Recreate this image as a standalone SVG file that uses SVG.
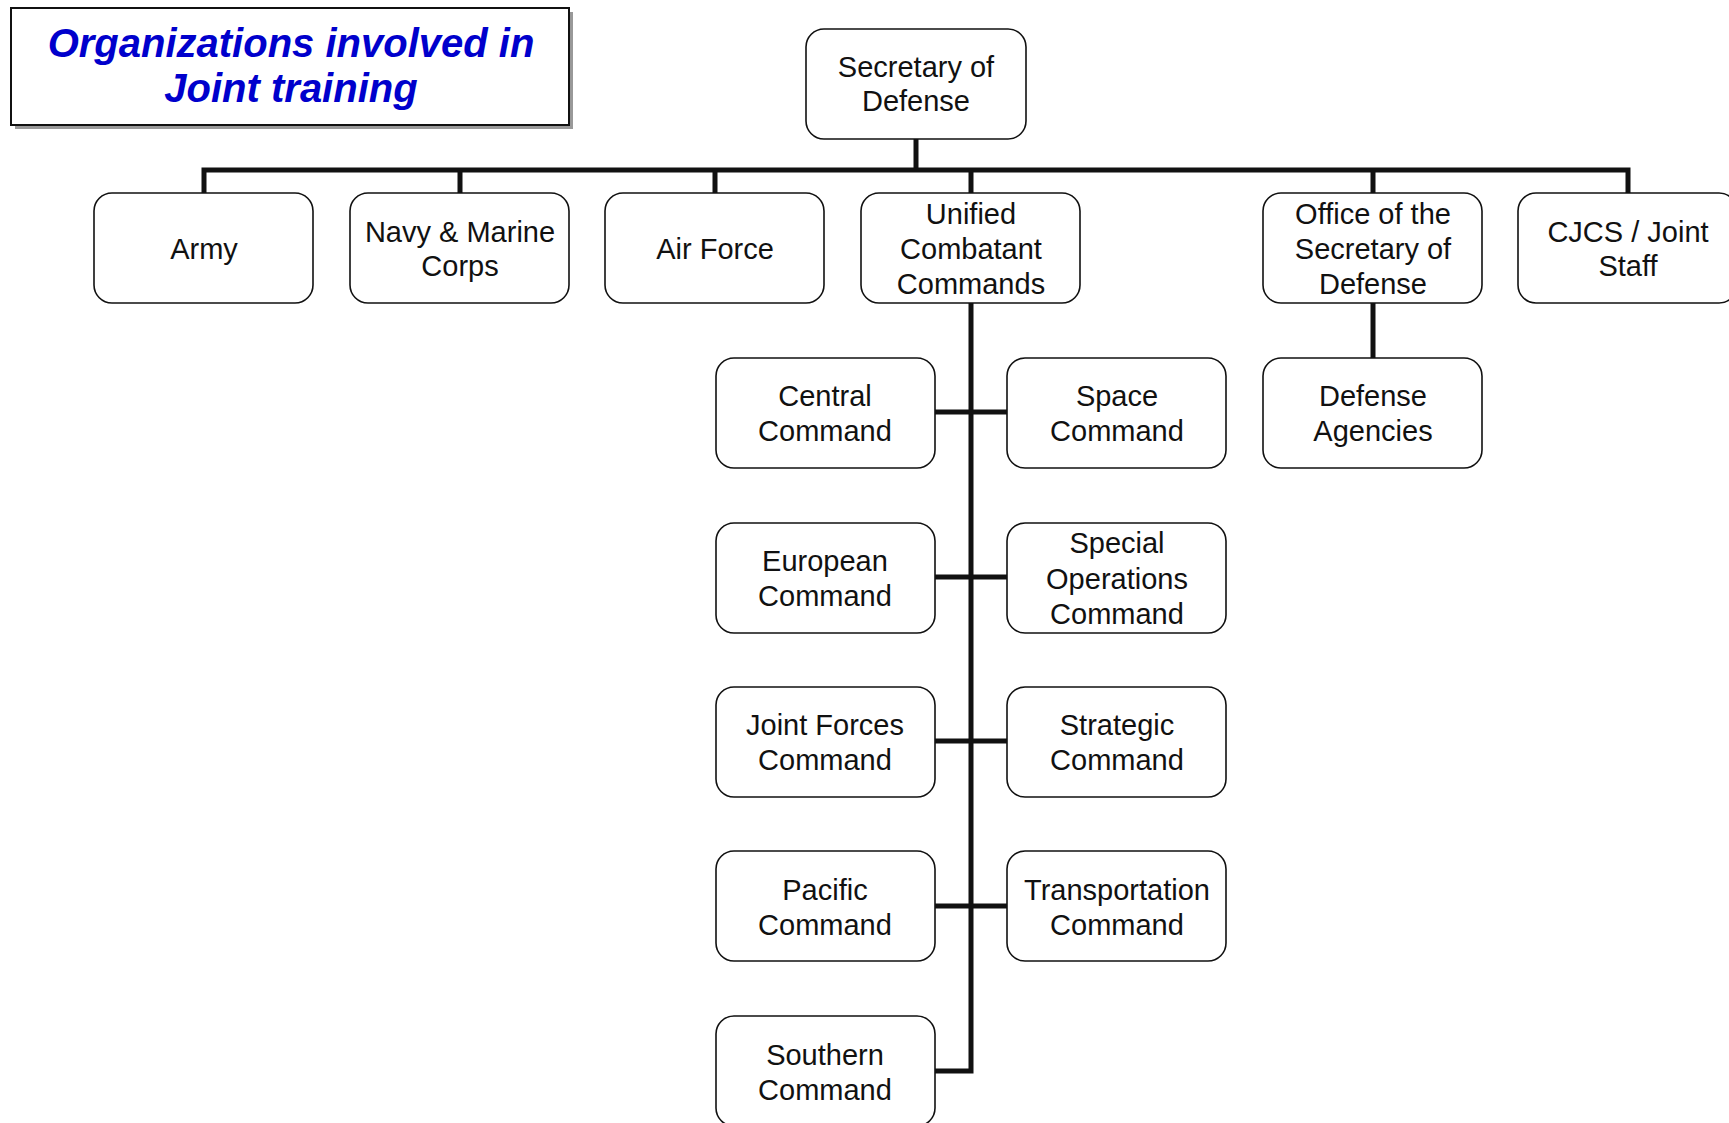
<svg xmlns="http://www.w3.org/2000/svg" width="1729" height="1123" viewBox="0 0 1729 1123">
<style>
.box{fill:#fff;stroke:#111;stroke-width:1.6}
.t{font-family:"Liberation Sans",Arial,sans-serif;font-size:29px;fill:#111;text-anchor:middle}
.c{fill:none;stroke:#111;stroke-width:5;stroke-linejoin:miter}
.title{font-family:"Liberation Sans",Arial,sans-serif;font-size:40px;font-weight:bold;font-style:italic;fill:#0000CC;text-anchor:middle}
</style>
<rect width="1729" height="1123" fill="#fff"/>
<g id="title">
<rect x="15" y="12" width="558" height="117" fill="#999"/>
<rect x="11" y="8" width="558" height="117" fill="#fff" stroke="#111" stroke-width="2"/>
<text class="title" x="291" y="57">Organizations involved in</text>
<text class="title" x="291" y="102">Joint training</text>
</g>
<g id="connectors">
<path class="c" d="M916 139V170"/>
<path class="c" d="M204 193V170H1628V193"/>
<path class="c" d="M460 170V193M715 170V193M1373 170V193"/>
<path class="c" d="M971 170V193"/>
<path class="c" d="M971 303V1071H935"/>
<path class="c" d="M935 412H1007M935 577H1007M935 741H1007M935 906H1007"/>
<path class="c" d="M1373 303V358"/>
</g>
<g id="secdef"><rect class="box" x="806" y="29" width="220" height="110" rx="18"/><text class="t" x="916" y="77">Secretary of</text><text class="t" x="916" y="111">Defense</text></g>
<g id="army"><rect class="box" x="94" y="193" width="219" height="110" rx="18"/><text class="t" x="204" y="259">Army</text></g>
<g id="navy"><rect class="box" x="350" y="193" width="219" height="110" rx="18"/><text class="t" x="460" y="242">Navy &amp; Marine</text><text class="t" x="460" y="276">Corps</text></g>
<g id="airforce"><rect class="box" x="605" y="193" width="219" height="110" rx="18"/><text class="t" x="715" y="259">Air Force</text></g>
<g id="unified"><rect class="box" x="861" y="193" width="219" height="110" rx="18"/><text class="t" x="971" y="224">Unified</text><text class="t" x="971" y="259">Combatant</text><text class="t" x="971" y="294">Commands</text></g>
<g id="osd"><rect class="box" x="1263" y="193" width="219" height="110" rx="18"/><text class="t" x="1373" y="224">Office of the</text><text class="t" x="1373" y="259">Secretary of</text><text class="t" x="1373" y="294">Defense</text></g>
<g id="cjcs"><rect class="box" x="1518" y="193" width="219" height="110" rx="18"/><text class="t" x="1628" y="242">CJCS / Joint</text><text class="t" x="1628" y="276">Staff</text></g>
<g id="agencies"><rect class="box" x="1263" y="358" width="219" height="110" rx="18"/><text class="t" x="1373" y="406">Defense</text><text class="t" x="1373" y="441">Agencies</text></g>
<g id="central"><rect class="box" x="716" y="358" width="219" height="110" rx="18"/><text class="t" x="825" y="406">Central</text><text class="t" x="825" y="441">Command</text></g>
<g id="space"><rect class="box" x="1007" y="358" width="219" height="110" rx="18"/><text class="t" x="1117" y="406">Space</text><text class="t" x="1117" y="441">Command</text></g>
<g id="european"><rect class="box" x="716" y="523" width="219" height="110" rx="18"/><text class="t" x="825" y="571">European</text><text class="t" x="825" y="606">Command</text></g>
<g id="specops"><rect class="box" x="1007" y="523" width="219" height="110" rx="18"/><text class="t" x="1117" y="553">Special</text><text class="t" x="1117" y="589">Operations</text><text class="t" x="1117" y="624">Command</text></g>
<g id="jointforces"><rect class="box" x="716" y="687" width="219" height="110" rx="18"/><text class="t" x="825" y="735">Joint Forces</text><text class="t" x="825" y="770">Command</text></g>
<g id="strategic"><rect class="box" x="1007" y="687" width="219" height="110" rx="18"/><text class="t" x="1117" y="735">Strategic</text><text class="t" x="1117" y="770">Command</text></g>
<g id="pacific"><rect class="box" x="716" y="851" width="219" height="110" rx="18"/><text class="t" x="825" y="900">Pacific</text><text class="t" x="825" y="935">Command</text></g>
<g id="transportation"><rect class="box" x="1007" y="851" width="219" height="110" rx="18"/><text class="t" x="1117" y="900">Transportation</text><text class="t" x="1117" y="935">Command</text></g>
<g id="southern"><rect class="box" x="716" y="1016" width="219" height="110" rx="18"/><text class="t" x="825" y="1065">Southern</text><text class="t" x="825" y="1100">Command</text></g>
</svg>
